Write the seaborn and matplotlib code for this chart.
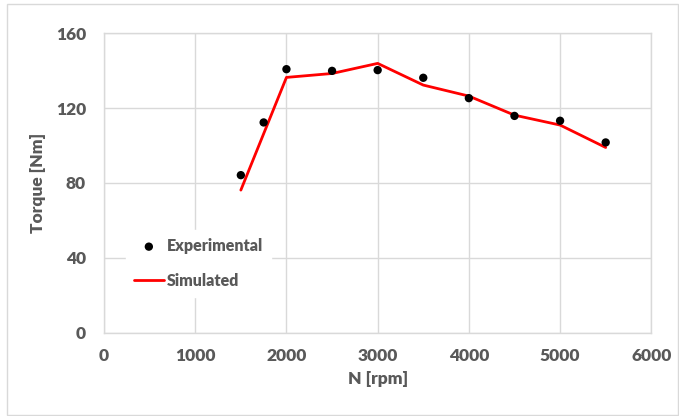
import matplotlib
matplotlib.use("Agg")
import matplotlib.pyplot as plt
import seaborn as sns
import pandas as pd
from matplotlib.patches import Rectangle

# Measured torque
exp_rpm = [1500, 1750, 2000, 2500, 3000, 3500, 4000, 4500, 5000, 5500]
exp_torque = [84.2, 112.4, 140.9, 140.0, 140.4, 136.3, 125.4, 115.9, 113.3, 101.7]

# Model output
sim_rpm = [1500, 2000, 2500, 3000, 3500, 4000, 4500, 5000, 5500]
sim_torque = [76.2, 136.5, 138.6, 144.0, 132.4, 126.5, 116.3, 111.0, 99.0]

x_ticks = [0, 1000, 2000, 3000, 4000, 5000, 6000]
y_ticks = [0, 40, 80, 120, 160]

sns.set_theme(style="white")
plt.rcParams["font.family"] = ["Lato", "DejaVu Sans"]
plt.rcParams["font.weight"] = "heavy"

TEXT = "#595959"
GRID = "#d9d9d9"
W = "heavy"

fig = plt.figure(figsize=(6.79, 4.16), dpi=100)
ax = fig.add_axes([0.1532, 0.2007, 0.8060, 0.7188])

exp_df = pd.DataFrame({"N": exp_rpm, "T": exp_torque})
sim_df = pd.DataFrame({"N": sim_rpm, "T": sim_torque})

sns.lineplot(data=sim_df, x="N", y="T", ax=ax, color="#ff0000", linewidth=2.0,
             label="Simulated", zorder=3)
sns.scatterplot(data=exp_df, x="N", y="T", ax=ax, color="black", s=36,
                edgecolor="none", label="Experimental", zorder=4)

ax.set_xlim(0, 6000)
ax.set_ylim(0, 160)
ax.set_xticks(x_ticks)
ax.set_yticks(y_ticks)
ax.grid(True, color=GRID, linewidth=1.0)
ax.set_axisbelow(True)
for sp in ax.spines.values():
    sp.set_color(GRID)
    sp.set_linewidth(1.0)

ax.tick_params(axis="both", length=0, labelsize=12.5, labelcolor=TEXT)
ax.tick_params(axis="x", pad=11)
ax.tick_params(axis="y", pad=13)
for lab in ax.get_xticklabels() + ax.get_yticklabels():
    lab.set_fontweight(W)

ax.set_xlabel("N [rpm]", fontsize=12.5, fontweight=W, color=TEXT, labelpad=5)
ax.set_ylabel("Torque [Nm]", fontsize=12.5, fontweight=W, color=TEXT, labelpad=7)

handles, labels = ax.get_legend_handles_labels()
order = [labels.index("Experimental"), labels.index("Simulated")]
leg = ax.legend([handles[i] for i in order], [labels[i] for i in order],
                loc="upper left", bbox_to_anchor=(0.025, 0.37),
                frameon=True, framealpha=1.0, edgecolor="white",
                facecolor="white", fancybox=False, fontsize=11.5,
                handlelength=1.9, handletextpad=0.2, labelspacing=1.2,
                borderpad=0.5)
for t in leg.get_texts():
    t.set_color(TEXT)
    t.set_fontweight(W)

# Outer chart border
fig.patches.append(Rectangle((7 / 679, 1 / 416), 1 - 8 / 679, 1 - 5 / 416,
                             transform=fig.transFigure, fill=False,
                             edgecolor="#d9d9d9", linewidth=1.0))

fig.savefig("out.png", dpi=100)
